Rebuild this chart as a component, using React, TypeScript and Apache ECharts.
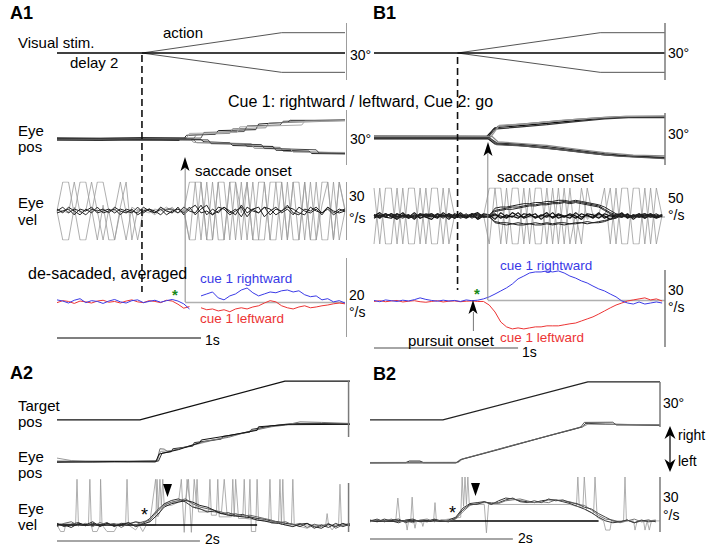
import React, { useEffect, useRef } from "react";
import * as echarts from "echarts";

// ---------------- DATA ----------------
// A1 (time in s, degrees / deg/s)
const A1_DELAY_END = 0.59;
const A1_SACC = 0.89;
const A1_stimBase = [[0, 0], [2.0, 0]];
const A1_stimUp = [[0.59, 0], [1.56, 10.5], [2.0, 10.5]];
const A1_stimDown = [[0.59, 0], [1.56, -10], [2.0, -10]];
const A1_posUp = [
  [[0, 0], [0.88, 0.2], [0.9, 2], [1.1, 2.5], [1.12, 4.5], [1.38, 5], [1.4, 8], [1.6, 9], [1.62, 10], [2.0, 10]],
  [[0, -0.3], [0.95, 0.3], [0.97, 2.5], [1.2, 3], [1.22, 5.5], [1.45, 6], [1.47, 8.5], [2.0, 9.8]],
  [[0, 0.3], [1.0, 0.5], [1.02, 3.5], [1.3, 4], [1.32, 7], [1.55, 7.5], [1.57, 9.5], [2.0, 10.3]],
  [[0, 0.2], [0.9, 0.5], [0.92, 3], [1.25, 3.5], [1.27, 6.5], [1.7, 7.5], [1.72, 9.5], [2.0, 9.8]],
];
const A1_posDown = [
  [[0, 0], [0.95, -0.5], [0.97, -2], [1.3, -2.5], [1.32, -4], [1.55, -4.5], [1.57, -6.5], [2.0, -7.5]],
  [[0, 0.2], [1.0, -0.3], [1.02, -1.5], [1.2, -2], [1.22, -3.5], [1.5, -4], [1.52, -6], [1.75, -6.5], [1.77, -7.8], [2.0, -8]],
  [[0, -0.2], [0.93, -0.5], [0.95, -1.8], [1.35, -2.5], [1.37, -5], [1.62, -5.5], [1.64, -7], [2.0, -7.2]],
  [[0, 0], [1.05, -0.5], [1.07, -2.5], [1.42, -3], [1.44, -5], [1.8, -5.8], [1.82, -7.5], [2.0, -7.8]],
];
const A1_posBand = [
  [[0, 0.6], [0.3, 0.4], [0.6, 0.7], [0.9, 0.5]],
  [[0, -0.6], [0.3, -0.8], [0.6, -0.5], [0.85, -0.7]],
];
const A1_VEL_DT = 0.04;
const A1_velNoise = [
  [1, -1, 2, 0, -2, 1, -1, 2, -1, 0, 1, -2, 1, 0, -1, 2, 0, -1, 1, -2, 0, 1, -1, 2, -2, 1, 3, -2, 0, 2, -1, 1, -3, 2, 0, -1, 2, -2, 1, 0, 3, -1, -2, 1, 0, 2, -1, 1, -2, 0, 1],
  [-1, 0, 1, -2, 1, 0, 2, -1, 0, 1, -1, 1, 0, -1, 2, -1, 1, 0, -2, 1, 1, -1, 2, 0, -1, 3, -2, 1, -1, 2, 0, -2, 3, -1, 1, 2, -3, 0, 2, -1, 1, -2, 2, 0, -1, 1, -2, 2, 0, -1, 0],
  [0, 2, -1, 1, 0, -2, 1, 0, 1, -1, 2, 0, -1, 1, -2, 0, 1, -1, 2, 0, -1, 2, -2, 1, 3, -1, 0, -2, 2, 1, -2, 0, 2, -3, 1, -1, 2, 1, -2, 0, 2, 1, -1, -2, 2, 0, -1, 2, -1, 1, 0],
];
const A1_velOsc = [
  [0, 15, 15, -2, 15, 15, -1, 15, 15, 0, -15, 2, 15, -15, 1, 0, 1, -1, 2, 0, -1, 1, 0, 15, 15, -15, 15, -15, 15, 15, -15, 15, -1, 15, -15, 15, 15, -15, -15, 15, -15, 15, 15, -15, 15, -15, 3, 15, -15, 15, 1],
  [0, -15, -15, 2, -15, -15, 1, -15, 3, -15, -15, 0, -15, 2, 0, 1, 0, -2, 1, 0, 2, -1, 0, -15, -15, 15, -15, 15, -15, -15, 15, -15, 15, -15, 15, -15, -15, 15, 15, -15, 15, -15, -15, 15, -15, 15, -15, -15, 15, -15, 0],
  [1, 0, -1, 15, -1, 0, 15, 0, -15, 1, 0, 15, -1, 0, -15, 0, -1, 1, 0, 2, 0, -1, 1, -15, 15, 15, -15, -15, 15, -15, 15, 15, -15, 15, -15, -15, 15, -15, 15, 15, -15, 15, -15, 15, -15, -15, 15, 15, -15, 15, 0],
];
const A1_avgBlue = [0.5, 0.2, -0.3, 0.4, 0.8, -0.2, 0.3, 0.1, -0.4, 0.2, 0.6, 0.0, -0.3, 0.3, 0.5, -0.2, 0.1, 0.4, -0.1, 0.3, 0.6, 0.2, -0.5, -1.8, null,
  1.5, 2.0, 2.5, 1.0, 0.5, 1.5, 2.0, 3.0, 3.5, 2.3, 1.5, 2.0, 2.5, 2.3, 2.8, 3.0, 2.5, 2.8, 1.8, 1.3, 1.5, 0.5, 0.8, 0, 0.3, -0.3];
const A1_avgRed = [-0.2, 0.3, 0.1, -0.4, 0.2, 0.0, -0.3, 0.2, 0.4, -0.1, 0.1, -0.3, 0.2, 0.5, 0.0, -0.2, 0.3, 0.1, -0.2, 0.4, 0.2, -0.6, -1.6, -1.2, null,
  -1.5, -2.0, -1.8, -2.3, -2.0, -2.5, -1.8, -1.5, -1.8, -1.3, -1.0, -0.3, 0.3, 0, -1.0, -1.5, -1.8, -1.3, -1.0, -1.5, -1.3, -1.0, -0.8, -0.5, -0.3, -0.5];

// B1
const B1_DELAY_END = 0.58;
const B1_SACC = 0.79;
const B1_PURSUIT = 0.69;
const B1_stimBase = [[0, 0], [2.02, 0]];
const B1_stimUp = [[0.58, 0], [1.57, 10.5], [2.02, 10.5]];
const B1_stimDown = [[0.58, 0], [1.57, -10], [2.02, -10]];
const B1_posUp = [
  [[0, 0.5], [0.78, 0.6], [0.84, 5.5], [1.0, 6.5], [1.2, 7.8], [1.4, 9.3], [1.6, 10.6], [1.75, 11.3], [2.02, 11.2]],
  [[0, 1.2], [0.8, 1.0], [0.86, 6.2], [1.0, 7.3], [1.2, 8.6], [1.4, 10], [1.6, 11], [1.75, 11.6], [2.02, 11.6]],
  [[0, -0.2], [0.79, 0.2], [0.83, 4.8], [1.0, 5.8], [1.2, 7.2], [1.4, 8.8], [1.6, 10.2], [1.8, 11], [2.02, 10.9]],
  [[0, 0.8], [0.81, 0.5], [0.87, 6.8], [1.05, 7.6], [1.3, 9.4], [1.5, 10.5], [1.7, 11.5], [2.02, 11.8]],
];
const B1_posDown = [
  [[0, 0.3], [0.8, 0.2], [0.85, -2.6], [1.0, -3.3], [1.2, -4.6], [1.4, -6.5], [1.6, -8.4], [1.75, -9.4], [2.02, -10.4]],
  [[0, -0.5], [0.79, -0.3], [0.84, -3.2], [1.0, -4], [1.2, -5.4], [1.4, -7.2], [1.6, -9], [1.8, -10], [2.02, -10.8]],
  [[0, 1.0], [0.82, 0.8], [0.86, -2.0], [1.0, -2.8], [1.2, -4], [1.4, -5.9], [1.6, -7.8], [1.8, -9.2], [2.02, -9.6]],
  [[0, 0], [0.8, 0], [0.85, -3.5], [1.05, -4.4], [1.3, -6.4], [1.5, -8.2], [1.7, -9.7], [2.02, -11]],
];
const B1_VEL_DT = 0.04;
const B1_velNoise = [
  [1, -2, 2, 0, -3, 1, -1, 3, -2, 0, 2, -1, 1, -3, 2, 0, -2, 1, 3, -1, 0, 2, -2, 1, -1, 3, -2, 0, 2, -3, 1, -1, 2, 0, -2, 3, -1, 1, -2, 2, 0, -3, 1, 2, -1, 0, 2, -2, 1, -1, 0],
  [-2, 1, 0, 2, -1, 3, -2, 0, 1, -1, -3, 2, 0, 1, -2, 3, -1, 0, -2, 2, 1, -3, 3, -1, 0, -2, 2, 1, -1, 0, 3, -2, 1, -1, 2, 0, -3, 2, 1, -2, 2, 0, -1, 3, -2, 1, -1, 0, 2, -1, 1],
  [0, 3, -1, -2, 2, 0, 1, -3, 2, 1, 0, -2, 3, -1, 0, 1, -1, 2, -3, 0, -1, 1, 0, -2, 3, 0, -1, 2, -2, 1, -1, 3, -2, 0, 1, -2, 2, 0, -1, 3, -2, 1, 0, -1, 2, -3, 1, 2, 0, -2, 0],
];
const B1_velOsc = [
  [25, -25, 25, 25, -25, 25, -25, -25, 25, -25, 25, 25, -25, 25, 0, 1, 0, -1, 2, 0, 25, 25, -25, 25, -25, -25, 25, -25, 25, 25, -25, 25, -25, 25, -25, 2, -25, 25, 0, 1, -1, 25, -25, 25, 25, -25, -25, 25, -25, 25, 0],
  [-25, 25, -25, -25, 25, -25, 25, 25, -25, 25, -25, -25, 25, -25, 1, 0, 1, 0, -1, 1, -25, 25, 25, -25, 25, 25, -25, 25, -25, -25, 25, -25, 25, -25, 25, -25, 25, -3, 2, 0, 25, -25, 25, -25, -25, 25, 25, -25, 25, -25, 1],
];
const B1_velBranch = [
  [1, -1, 2, 0, -2, 1, 0, -1, 2, -1, 0, 1, -2, 2, 0, -1, 1, 0, -1, 1, 1, 5, 6, 7, 8, 8, 9, 10, 10, 11, 11, 12, 12, 13, 12, 13, 12, 11, 10, 9, 6, 3, 1, 0, -1, 1, 0, -2, 1, 0, 1],
  [0, 1, -1, 2, -1, 0, 1, -2, 1, 0, -1, 2, 0, -1, 1, -2, 0, 2, 1, -1, 0, 7, 8, 8, 9, 10, 11, 11, 12, 12, 13, 13, 14, 14, 13, 14, 13, 12, 11, 10, 8, 5, 2, 1, 0, -1, 2, 0, -1, 1, 0],
  [-1, 0, 2, -1, 1, 0, -2, 1, 0, 2, 1, -1, 0, 2, -2, 1, 0, -1, 2, 0, -1, 4, 5, 6, 6, 7, 8, 9, 9, 10, 10, 11, 11, 12, 11, 12, 11, 10, 9, 8, 5, 2, 0, -1, 1, 0, -1, 1, 0, 2, -1],
  [1, 0, -1, 2, 0, -2, 1, -1, 0, 1, 2, -1, 1, 0, -2, 1, -1, 2, 0, -1, -1, -5, -6, -6, -7, -6, -7, -7, -6, -7, -6, -7, -6, -6, -7, -6, -6, -5, -6, -5, -4, -3, -1, 0, 1, -1, 0, 2, -1, 0, 1],
  [0, -1, 1, 0, 2, -1, 0, 1, -2, 1, 0, 1, -1, 2, 0, -1, 2, -2, 1, 0, 0, -6, -7, -8, -7, -8, -8, -7, -8, -8, -7, -8, -7, -8, -7, -7, -6, -7, -6, -6, -5, -3, -2, 1, 0, -1, 1, 0, 2, -1, 0],
];
const B1_avgBlue = [0.2, -0.3, 0.4, 0.1, -0.2, 0.3, 0.0, 0.5, 1.2, 0.6, 0.2, -0.1, 0.3, 0.0, 0.2, -0.2, 0.4, 0.1, 0.3,
  0.8, 1.6, 2.7, 3.9, 5.1, 6.6, 8.6, 9.7, 10.9, 11.3, 11.3, 11.7, 11.3, 11.7, 10.9, 9.7, 8.9, 7.8, 7.0, 5.8, 4.7, 3.9, 2.7, 1.6, 0, -0.8, -1.2, -0.4, -1.2, -0.8, -0.4, -0.8];
const B1_avgRed = [-0.2, 0.1, -0.3, 0.0, 0.2, -0.4, -0.1, 0.1, -0.3, -0.5, -0.2, 0.1, -0.4, -0.1, 0.0, -0.3, -0.1, 0.0, -0.2,
  -0.2, -1.6, -4.3, -8.2, -10.1, -10.9, -10.5, -10.9, -10.5, -10.1, -10.1, -9.7, -9.7, -9.7, -9.3, -8.9, -8.6, -7.8, -7.0, -6.2, -5.1, -3.9, -2.7, -1.6, -0.8, 0, 0.4, 0.8, 1.2, 0.4, 0.8, 0];

// A2
const A2_target = [[0, 0], [1.16, 0], [3.19, 22], [4.1, 22]];
const A2_eye = [
  [[0, 2.2], [0.2, 0.8], [0.4, 0.3], [1.0, 0], [1.4, 0.3], [1.45, 6], [1.6, 6.5], [1.9, 9.5], [2.2, 12.5], [2.5, 15.5], [2.8, 18.5], [3.0, 20.5], [3.2, 21.5], [3.6, 22], [4.1, 21.5]],
  [[0, 0.3], [0.5, 0], [1.0, 0.2], [1.42, 0.5], [1.47, 5], [1.6, 5.8], [1.62, 7.5], [1.9, 9], [1.92, 11], [2.3, 13], [2.32, 14.5], [2.7, 17], [2.72, 18.5], [3.0, 20.5], [3.3, 21.8], [4.1, 21.8]],
  [[0, 0.5], [1.0, 0.5], [1.4, 0.8], [1.44, 7.5], [1.5, 7.3], [1.55, 5.8], [1.8, 8.5], [2.1, 12], [2.4, 14], [2.7, 17.5], [3.0, 20], [3.2, 21], [3.4, 22.8], [3.7, 22.5], [4.1, 21.9]],
  [[0, -0.2], [0.8, 0.2], [1.38, 0], [1.43, 4.5], [1.7, 7], [2.0, 11], [2.02, 12.5], [2.4, 15], [2.8, 18], [2.82, 20], [3.2, 21.2], [4.1, 21.4]],
];
const A2_velZero = [[0, 0], [2.8, 0]];
const A2_SMOOTH_DT = 0.1;
const A2_velSmooth = [
  [1, -1, 0.5, 1.5, -0.5, 1, 0, 1.5, -1, 1, 0.5, 2, 1, 4, 9, 13, 15, 16, 14, 11, 10, 8, 8.5, 7, 7.5, 6, 6.5, 5, 4, 3.5, 2.5, 2, 1, 0.5, -1, 1, -2, 0, -1.5, 1, -1, 0.5],
  [-1, 1, 2, -0.5, 1, -1, 1.5, 0, 1, -1.5, 1, 0, 2, 3, 8, 12, 14, 15, 16, 13, 11, 10, 9, 8, 6.5, 7, 5.5, 6, 5, 4, 3, 1.5, 2, 0, 1, -1.5, 0.5, -1, 1, -2, 0, 1],
  [0.5, 0, -1.5, 1, 0, 2, -1, 1, -0.5, 0, 1.5, -1, 0.5, 2, 6, 11, 13, 14, 15, 14, 12, 11, 9, 7, 6, 5.5, 5, 4.5, 3, 2.5, 1.5, 1, 0, -1, 0.5, 1, -1, -2, 0.5, -1, 1, -0.5],
];
const A2_velSacc = [
  [[0, 0], [0.05, -4], [0.1, -4], [0.12, 0], [0.26, 0], [0.28, 28], [0.3, 0], [0.44, 0], [0.46, 28], [0.48, 0], [0.5, -4], [0.56, -4], [0.6, 0], [0.61, 28], [0.63, 0], [0.7, -4], [0.8, -4], [0.85, 0], [0.96, 0], [0.98, 28], [1.0, 0], [1.1, -3], [1.15, 0], [1.2, -4], [1.25, 0], [1.38, 0], [1.4, 28], [1.42, 10], [1.44, 28], [1.46, 12], [1.48, 28], [1.5, 12], [1.6, 12], [1.7, 14], [1.74, 28], [1.78, -4.5], [1.82, 28], [1.86, 14], [1.94, 10], [1.96, 28], [1.98, 8], [2.12, 8], [2.14, 28], [2.16, 6], [2.23, 6], [2.25, 28], [2.27, 5], [2.44, 5], [2.46, 28], [2.48, 5], [2.5, 28], [2.54, 4], [2.68, 4], [2.7, 28], [2.72, -4], [2.78, -4], [2.8, 28], [2.82, 3], [2.96, 2], [2.98, 28], [3.0, 1], [3.1, 1], [3.12, 28], [3.14, 0], [3.16, 28], [3.18, 0], [3.28, 0], [3.3, 28], [3.32, 0], [3.5, -2], [3.6, 0], [3.76, 0], [3.78, 7], [3.8, 0], [3.85, -3], [3.9, 0], [3.94, 0], [3.96, 25], [3.98, 0], [4.1, 0]],
  [[0, 1], [0.5, 0], [1.3, 2], [1.38, 28], [1.41, 5], [1.5, 13], [1.8, 15], [1.84, 28], [1.88, -4.5], [1.92, 28], [1.96, 10], [2.3, 7], [2.34, 28], [2.38, 6], [2.6, 5], [2.62, 28], [2.64, 4], [3.0, 2], [3.4, 0], [4.1, 0]],
];

// B2
const B2_target = [[0, 0], [1.02, 0], [3.05, 21.6], [4.06, 21.6]];
const B2_eye = [
  [[0, -0.5], [0.5, -0.4], [0.55, 0.5], [0.7, 0.5], [0.75, -0.4], [1.22, -0.4], [1.28, 1.5], [1.6, 5], [2.0, 9.5], [2.4, 13.8], [2.8, 18], [2.98, 20], [3.02, 22], [3.3, 21.5], [4.06, 21]],
  [[0, -0.3], [1.24, -0.2], [1.3, 1.8], [1.7, 6.2], [2.1, 10.5], [2.5, 15], [2.9, 19.3], [3.0, 20.5], [3.05, 21.5], [4.06, 21.2]],
  [[0, -0.6], [1.2, -0.6], [1.26, 1.2], [1.8, 7], [2.2, 11.5], [2.6, 16], [2.95, 19.8], [3.0, 22.5], [3.4, 22.6], [3.45, 21], [4.06, 20.8]],
];
const B2_velZero = [[0, 0], [3.2, 0]];
const B2_SMOOTH_DT = 0.1;
const B2_velSmooth = [
  [0.5, -0.5, 1, 0, -1, 0.5, 1, -0.5, 0, 0.8, -0.3, 0.5, 2, 7, 9.5, 10, 10.5, 9, 11, 12.5, 12, 11, 10.5, 10, 11, 11.5, 11.5, 10.5, 9.5, 8, 6.5, 4.5, 2, 0, -1, -0.5, 0.5, -1, 0, 0.5, -0.5],
  [-0.5, 0.5, 0, 1, -0.5, 0, -1, 0.5, 1, -0.5, 0.5, 0, 1, 5, 8.5, 9.5, 10, 10, 9.5, 11, 11.5, 12, 11, 10, 10.5, 10, 11.5, 11, 10.5, 9, 8.5, 6, 3, 1, 0.5, -1, 0, 1, -0.5, 0, 0.5],
  [0, 1, -0.5, 0.5, 1, -1, 0.5, 0, -0.5, 1, 0, -0.5, 1.5, 6, 9, 9, 10.5, 9.5, 10, 11.5, 12.5, 10.5, 10, 11, 10, 12, 11, 11.5, 10, 9.5, 7.5, 6.5, 4, 2, 0, -0.5, 0.5, -1, 0.5, -0.5, 0],
];
const B2_velSacc = [
  [[0, 0], [0.36, 0], [0.39, 12.5], [0.42, 0], [0.5, 0], [0.52, -5], [0.54, 0], [0.57, 0], [0.59, 13], [0.61, 0], [0.63, -4], [0.65, 0], [0.72, 0], [0.74, -3], [0.76, 0], [0.89, 0], [0.91, 10], [0.93, 0], [1.27, 2], [1.29, 24], [1.31, 8], [1.33, 24], [1.35, 9], [1.37, 24], [1.39, 9], [1.6, 9], [1.63, -6.5], [1.66, 9], [2.8, 9], [2.89, 8], [2.91, 24], [2.93, 8], [2.98, 7], [3.0, 24], [3.03, 6], [3.13, 4], [3.15, 24], [3.18, 2], [3.27, 0], [3.3, -5], [3.36, -5], [3.38, 0], [3.55, 0], [3.57, 24], [3.59, 0], [3.69, 0], [3.71, -5], [3.74, 0], [3.83, 0], [3.85, -5], [3.88, 0], [3.91, -5], [3.94, 0], [4.06, 0]],
];

// ---------------- LAYOUT ----------------
// [left, top, width, height, xmax, ymin, ymax, inverse]
const GRIDS: any[] = [
  [57, 24, 288, 58, 2.0, -15, 15],        // 0 A1 stim
  [57, 111, 288, 56, 2.0, -15, 15],       // 1 A1 pos
  [57, 182, 288, 58, 2.0, -15, 15],       // 2 A1 vel
  [57, 258, 288, 79, 2.0, -8.9, 11.1],    // 3 A1 avg
  [374, 24, 291, 58, 2.02, -15, 15],      // 4 B1 stim
  [374, 110, 291, 56, 2.02, -15, 15],     // 5 B1 pos
  [374, 188, 291, 56, 2.02, -25, 25],     // 6 B1 vel
  [374, 270, 291, 77, 2.02, -17.94, 12.06], // 7 B1 avg
  [57, 378, 293, 44, 4.1, -1.2, 23.8],    // 8 A2 target
  [57, 418, 293, 48, 4.1, -2.3, 25],      // 9 A2 eye pos
  [57, 478, 293, 55, 4.1, -4.9, 28.8],    // 10 A2 vel
  [370, 378, 290, 44, 4.06, -1.2, 23.8],  // 11 B2 target
  [370, 418, 290, 48, 4.06, -2.3, 25],    // 12 B2 eye pos
  [370, 477, 290, 56, 4.06, -6.6, 24],    // 13 B2 vel
  [57, 0, 288, 548, 2.0, 0, 548, true],   // 14 A1 overlay
  [374, 0, 291, 548, 2.02, 0, 548, true], // 15 B1 overlay
  [57, 0, 293, 548, 4.1, 0, 548, true],   // 16 A2 overlay
  [370, 0, 290, 548, 4.06, 0, 548, true], // 17 B2 overlay
];

const FONT = "'Liberation Sans', Arial, Helvetica, sans-serif";
const BLUE = "#3a3ae6";
const RED = "#ec3434";
const OSC = "#9a9a9a";

function ts(vals: any[], dt: number) {
  return vals.map((v, i) => [Math.round(i * dt * 1000) / 1000, v == null ? "-" : v]);
}

function line(gi: number, data: any[], color: string, width = 1, extra: any = {}) {
  return {
    type: "line",
    xAxisIndex: gi,
    yAxisIndex: gi,
    data,
    symbol: "none",
    showSymbol: false,
    silent: true,
    animation: false,
    connectNulls: false,
    lineStyle: { color, width, ...(extra.lineStyle || {}) },
    ...(extra.clip === false ? { clip: false } : {}),
    z: extra.z ?? 2,
  };
}

function vbar(gi: number, t: number, y1: number, y2: number, color = "#7a7a7a", width = 1.5, type: any = "solid") {
  return line(gi, [[t, y1], [t, y2]], color, width, { clip: false, lineStyle: { type }, z: 5 });
}
function hbar(gi: number, t1: number, t2: number, y: number, color = "#888", width = 1.5) {
  return line(gi, [[t1, y], [t2, y]], color, width, { clip: false, z: 1 });
}

function txt(text: string, x: number, y: number, size = 15, fill = "#000", weight: any = "normal") {
  return {
    type: "text",
    x,
    y,
    z: 100,
    silent: true,
    style: { text, fontSize: size, fontFamily: FONT, fontWeight: weight, fill, verticalAlign: "middle", align: "left" },
  };
}
function poly(points: number[][], fill = "#000") {
  return { type: "polygon", z: 100, silent: true, shape: { points }, style: { fill } };
}

function buildOption() {
  const grid = GRIDS.map((g) => ({ left: g[0], top: g[1], width: g[2], height: g[3], containLabel: false }));
  const xAxis = GRIDS.map((g, i) => ({ type: "value", gridIndex: i, min: 0, max: g[4], show: false }));
  const yAxis = GRIDS.map((g, i) => ({ type: "value", gridIndex: i, min: g[5], max: g[6], inverse: !!g[7], show: false }));

  const s: any[] = [];
  // A1 stim
  s.push(line(0, A1_stimUp, "#555", 1));
  s.push(line(0, A1_stimDown, "#555", 1));
  s.push(line(0, A1_stimBase, "#000", 1.6));
  // A1 pos
  A1_posUp.forEach((d, i) => s.push(line(1, d, ["#222", "#888", "#555", "#aaa"][i], 1)));
  A1_posDown.forEach((d, i) => s.push(line(1, d, ["#777", "#222", "#999", "#444"][i], 1)));
  A1_posBand.forEach((d) => s.push(line(1, d, "#333", 1.2)));
  // A1 vel
  A1_velOsc.forEach((d) => s.push(line(2, ts(d, A1_VEL_DT), OSC, 0.8)));
  A1_velNoise.forEach((d) => s.push(line(2, ts(d, A1_VEL_DT), "#222", 1)));
  // A1 avg
  s.push(line(3, ts(A1_avgRed, A1_VEL_DT), RED, 1));
  s.push(line(3, ts(A1_avgBlue, A1_VEL_DT), BLUE, 1));

  // B1 stim
  s.push(line(4, B1_stimUp, "#555", 1));
  s.push(line(4, B1_stimDown, "#555", 1));
  s.push(line(4, B1_stimBase, "#000", 1.6));
  // B1 pos
  B1_posUp.forEach((d, i) => s.push(line(5, d, ["#111", "#666", "#333", "#999"][i], 1.2)));
  B1_posDown.forEach((d, i) => s.push(line(5, d, ["#333", "#111", "#888", "#555"][i], 1.2)));
  // B1 vel
  B1_velOsc.forEach((d) => s.push(line(6, ts(d, B1_VEL_DT), OSC, 0.8)));
  B1_velNoise.forEach((d) => s.push(line(6, ts(d, B1_VEL_DT), "#111", 1.2)));
  B1_velBranch.forEach((d) => s.push(line(6, ts(d, B1_VEL_DT), "#222", 1)));
  // B1 avg
  s.push(line(7, ts(B1_avgRed, B1_VEL_DT), RED, 1));
  s.push(line(7, ts(B1_avgBlue, B1_VEL_DT), BLUE, 1));

  // A2
  s.push(line(8, A2_target, "#111", 1.2));
  A2_eye.forEach((d, i) => s.push(line(9, d, ["#999", "#333", "#777", "#111"][i], 1)));
  A2_velSacc.forEach((d) => s.push(line(10, d, OSC, 0.8)));
  s.push(line(10, A2_velZero, "#000", 1.5));
  A2_velSmooth.forEach((d, i) => s.push(line(10, ts(d, A2_SMOOTH_DT), ["#333", "#666", "#222"][i], 1)));

  // B2
  s.push(line(11, B2_target, "#222", 1.2));
  B2_eye.forEach((d, i) => s.push(line(12, d, ["#222", "#888", "#555"][i], 1)));
  B2_velSacc.forEach((d) => s.push(line(13, d, OSC, 0.8)));
  s.push(line(13, B2_velZero, "#000", 1.5));
  B2_velSmooth.forEach((d, i) => s.push(line(13, ts(d, B2_SMOOTH_DT), ["#333", "#777", "#444"][i], 1)));

  // ---- overlays (y = page pixels) ----
  // A1
  s.push(vbar(14, A1_DELAY_END, 55, 292, "#111", 1.6, [7, 4]));
  s.push(vbar(14, A1_SACC, 168, 302, "#8a8a8a", 1));
  s.push(hbar(14, A1_SACC, 2.0, 302.5, "#b0b0b0", 1.5));
  s.push(hbar(14, 0, 1, 338, "#555", 1.5));
  s.push(vbar(14, 2.014, 23, 80));
  s.push(vbar(14, 2.014, 110, 165));
  s.push(vbar(14, 2.014, 182, 240));
  s.push(vbar(14, 2.014, 258, 337));
  // B1
  s.push(vbar(15, B1_DELAY_END, 57, 290, "#111", 1.6, [7, 4]));
  s.push(vbar(15, B1_SACC, 152, 300, "#8a8a8a", 1));
  s.push(hbar(15, B1_SACC, 2.02, 217, "#999", 1));
  s.push(hbar(15, B1_SACC, 2.02, 300.5, "#b0b0b0", 1.5));
  s.push(vbar(15, B1_PURSUIT, 312, 331, "#777", 1));
  s.push(hbar(15, 0, 1, 348, "#888", 1.5));
  s.push(vbar(15, 2.02, 23, 80));
  s.push(vbar(15, 2.02, 113, 165));
  s.push(vbar(15, 2.02, 270, 347));
  // A2
  s.push(vbar(16, 4.08, 381, 437));
  s.push(vbar(16, 4.08, 483, 532));
  s.push(hbar(16, 0, 2, 541, "#888", 1.5));
  // B2
  s.push(vbar(17, 4.06, 382, 427));
  s.push(vbar(17, 4.06, 477, 532));
  s.push(hbar(17, 0, 2, 539, "#888", 1.5));

  const graphic: any[] = [
    txt("A1", 10, 13, 18, "#000", "bold"),
    txt("B1", 373, 13, 18, "#000", "bold"),
    txt("A2", 10, 373, 18, "#000", "bold"),
    txt("B2", 373, 374, 18, "#000", "bold"),
    txt("Visual stim.", 18, 42, 15),
    txt("action", 163, 32, 15),
    txt("delay 2", 70, 62, 15),
    txt("30°", 350, 55, 14),
    txt("30°", 668, 53, 14),
    txt("Cue 1: rightward / leftward, Cue 2: go", 228, 101, 16),
    txt("Eye", 18, 130, 15),
    txt("pos", 18, 146, 15),
    txt("30°", 350, 139, 14),
    txt("30°", 668, 134, 14),
    txt("saccade onset", 195, 170, 15),
    txt("saccade onset", 497, 176, 15),
    txt("Eye", 18, 202, 15),
    txt("vel", 18, 219, 15),
    txt("30", 349, 196, 14),
    txt("°/s", 349, 218, 14),
    txt("50", 668, 198, 14),
    txt("°/s", 668, 215, 14),
    txt("de-sacaded, averaged", 28, 273, 16),
    txt("cue 1 rightward", 200, 278, 13.5, BLUE),
    txt("cue 1 leftward", 200, 318, 13.5, RED),
    txt("20", 349, 295, 14),
    txt("°/s", 349, 312, 14),
    txt("1s", 205, 340, 14),
    txt("*", 172, 294, 15, "#1a8a1a", "bold"),
    txt("*", 474, 293, 15, "#1a8a1a", "bold"),
    txt("cue 1 rightward", 500, 265, 13.5, BLUE),
    txt("cue 1 leftward", 500, 337, 13.5, RED),
    txt("pursuit onset", 408, 340, 15),
    txt("1s", 522, 352, 14),
    txt("30", 668, 290, 14),
    txt("°/s", 668, 307, 14),
    txt("Target", 18, 405, 15),
    txt("pos", 18, 421, 15),
    txt("Eye", 18, 456, 15),
    txt("pos", 18, 472, 15),
    txt("Eye", 18, 508, 15),
    txt("vel", 18, 524, 15),
    txt("2s", 205, 539, 14),
    txt("*", 141, 515, 18),
    txt("30°", 663, 403, 14),
    txt("right", 678, 435, 14),
    txt("left", 678, 461, 14),
    txt("30", 663, 497, 14),
    txt("°/s", 663, 515, 14),
    txt("2s", 518, 538, 14),
    txt("*", 449, 513, 18),
    poly([[185, 157], [180.5, 171], [185, 167.5], [189.5, 171]]),
    poly([[488, 142], [483.5, 156], [488, 152.5], [492.5, 156]]),
    poly([[473, 300], [468.5, 314], [473, 310.5], [477.5, 314]]),
    poly([[163, 484], [172, 484], [167.5, 497]]),
    poly([[471, 483], [480, 483], [475.5, 496]]),
    { type: "line", z: 100, silent: true, shape: { x1: 670, y1: 432, x2: 670, y2: 466 }, style: { stroke: "#000", lineWidth: 1.2 } },
    poly([[670, 426], [664.5, 439], [670, 435], [675.5, 439]]),
    poly([[670, 472], [664.5, 459], [670, 463], [675.5, 459]]),
  ];

  return {
    animation: false,
    backgroundColor: "#ffffff",
    grid,
    xAxis,
    yAxis,
    series: s,
    graphic,
  };
}

export default function App() {
  const ref = useRef<HTMLDivElement>(null);
  useEffect(() => {
    document.body.style.margin = "0";
    if (!ref.current) return;
    const chart = echarts.init(ref.current, undefined, { renderer: "svg" });
    chart.setOption(buildOption() as any);
    return () => chart.dispose();
  }, []);
  return <div ref={ref} style={{ width: 709, height: 548 }} />;
}
